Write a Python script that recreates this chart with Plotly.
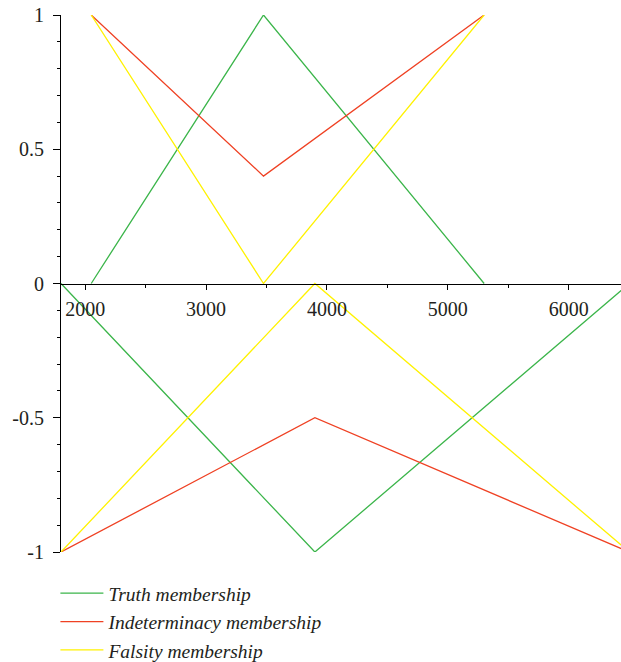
import plotly.graph_objects as go

# Data
pos_x = [2050, 3475, 5300]
neg_x = [1800, 3900, 6500]
truth_pos = [0, 1, 0]
truth_neg = [0, -1, 0]
indet_pos = [1, 0.4, 1]
indet_neg = [-1, -0.5, -1]
fals_pos = [1, 0, 1]
fals_neg = [-1, 0, -1]

series_names = ["Truth membership", "Indeterminacy membership", "Falsity membership"]
series_colors = ["#3bb54a", "#ef4123", "#fff200"]
series_pos = [truth_pos, indet_pos, fals_pos]
series_neg = [truth_neg, indet_neg, fals_neg]

x_tickvals = [2000, 3000, 4000, 5000, 6000]
x_ticktext = ["2000", "3000", "4000", "5000", "6000"]
y_tickvals = [-1, -0.5, 0, 0.5, 1]
y_ticktext = ["-1", "-0.5", "0", "0.5", "1"]

FONT = "Liberation Serif"

fig = go.Figure()
for name, color, yp, yn in zip(series_names, series_colors, series_pos, series_neg):
    fig.add_trace(go.Scatter(
        x=pos_x + [None] + neg_x,
        y=yp + [None] + yn,
        mode="lines",
        name=name,
        line=dict(color=color, width=1.3),
        connectgaps=False,
    ))

fig.update_layout(
    width=621, height=662,
    margin=dict(l=61, r=0, t=15, b=110, autoexpand=False),
    paper_bgcolor="white",
    plot_bgcolor="white",
    font=dict(family=FONT, color="#231f20", size=20),
    showlegend=True,
    legend=dict(
        x=-0.01, y=-0.041, xanchor="left", yanchor="top",
        font=dict(family=FONT, size=19.5, color="#231f20", style="italic"),
        bgcolor="rgba(0,0,0,0)",
        tracegroupgap=0,
        itemwidth=43,
    ),
    xaxis=dict(
        range=[1800, 6432],
        anchor="free", position=0.5,
        automargin=False,
        showgrid=False, zeroline=False,
        showline=True, linecolor="black", linewidth=1.2,
        ticks="outside", ticklen=5, tickwidth=1.2, tickcolor="black",
        ticklabelstandoff=2,
        tickvals=x_tickvals, ticktext=x_ticktext,
        tickfont=dict(family=FONT, size=20, color="#231f20"),
        minor=dict(dtick=500, tick0=0, ticks="outside", ticklen=3, tickwidth=1.2, tickcolor="black", showgrid=False),
    ),
    yaxis=dict(
        range=[-1, 1],
        automargin=False,
        showgrid=False, zeroline=False,
        showline=True, linecolor="black", linewidth=1.2,
        ticks="outside", ticklen=7, tickwidth=1.2, tickcolor="black",
        ticklabelstandoff=5,
        tickvals=y_tickvals, ticktext=y_ticktext,
        tickfont=dict(family=FONT, size=20, color="#231f20"),
        minor=dict(dtick=0.1, tick0=0, ticks="outside", ticklen=3, tickwidth=1.2, tickcolor="black", showgrid=False),
    ),
)

fig.write_html(
    "out.html",
    config={"displayModeBar": False},
    post_script="document.body.style.margin='0';document.body.style.overflow='hidden';",
)
